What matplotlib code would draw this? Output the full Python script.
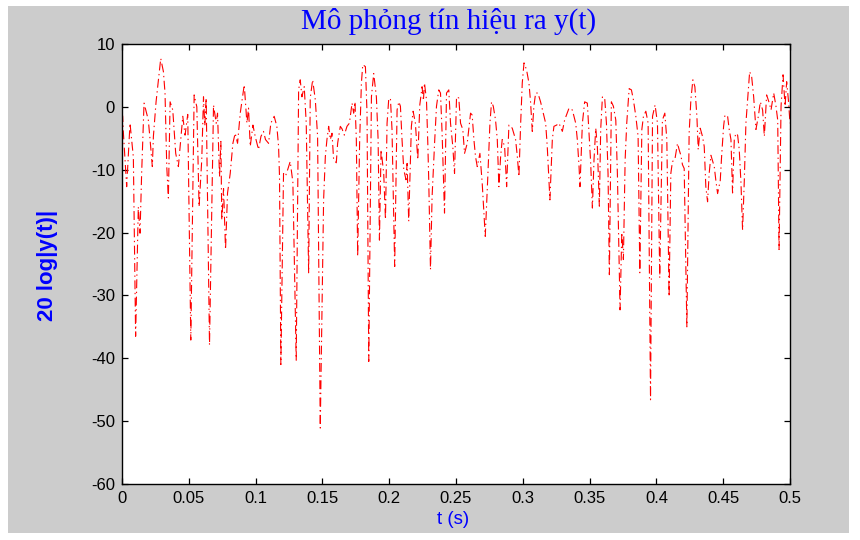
import matplotlib
matplotlib.use("Agg")
import matplotlib.pyplot as plt
import numpy as np
from matplotlib.patches import Rectangle

plt.rcParams["axes.unicode_minus"] = False

# time (ms) and level (dB), peaks and dips
t_ms = [
    0.0, 0.5, 1.0, 3.5, 6.0, 8.5, 10.2, 12.2, 13.5, 14.7, 16.5, 19.7, 21.0, 22.7,
    23.5, 25.5, 29.0, 31.0, 32.2, 33.5, 34.7, 36.0, 38.0, 40.2, 42.2, 45.5, 47.2,
    49.2, 51.5, 54.0, 56.0, 57.7, 59.7, 61.0, 62.0, 63.0, 65.5, 68.5, 70.5, 71.5,
    73.0, 74.0, 74.7, 76.0, 77.5, 79.0, 81.0, 83.0, 84.7, 86.5, 88.5, 91.5, 93.5,
    94.7, 96.0, 98.0, 99.7, 102.2, 104.0, 105.9, 107.4, 109.7, 111.4, 113.9,
    115.9, 117.2, 117.9, 118.9, 120.9, 122.4, 124.0, 125.9, 127.9, 130.4, 132.2,
    133.4, 134.7, 136.4, 137.9, 139.7, 140.9, 142.7, 144.7, 146.4, 148.4, 150.9,
    152.2, 153.4, 154.7, 155.9, 157.2, 158.4, 160.4, 161.4, 163.4, 164.7, 166.4,
    168.4, 170.2, 172.2, 173.4, 174.4, 175.4, 176.4, 177.9, 179.2, 180.2, 182.2,
    183.4, 184.7, 186.7, 188.4, 190.4, 191.7, 192.7, 193.9, 195.9, 197.2, 198.4,
    199.6, 200.9, 202.1, 204.1, 205.9, 207.2, 208.4, 209.6, 210.9, 212.6, 213.4,
    214.6, 216.6, 217.9, 219.6, 221.4, 222.9, 224.6, 225.6, 226.4, 227.9, 228.9,
    229.6, 230.9, 232.1, 234.1, 235.4, 237.1, 238.4, 239.6, 241.4, 242.9, 244.6,
    245.9, 247.6, 248.9, 250.4, 252.1, 253.4, 255.1, 256.4, 258.4, 260.9, 262.1,
    263.4, 264.6, 265.9, 267.9, 269.6, 271.9, 273.9, 275.4, 276.6, 277.9, 279.6,
    280.9, 282.1, 283.4, 284.6, 286.4, 287.9, 289.6, 290.9, 292.1, 294.6, 295.9,
    297.1, 298.4, 299.6, 300.9, 302.8, 304.6, 305.8, 307.1, 308.3, 309.6, 311.3,
    313.3, 315.3, 317.1, 318.3, 320.3, 322.1, 323.3, 325.3, 327.1, 329.6, 331.3,
    334.6, 337.1, 339.6, 340.8, 342.1, 342.8, 344.6, 346.3, 348.3, 349.6, 350.8,
    352.1, 353.3, 354.6, 355.8, 357.3, 358.3, 359.6, 361.3, 362.6, 363.8, 364.8,
    366.3, 367.8, 369.6, 370.8, 372.8, 374.1, 375.3, 376.6, 377.8, 379.6, 381.3,
    382.8, 384.6, 386.3, 387.6, 389.1, 390.3, 392.1, 393.8, 395.6, 397.1, 399.0,
    400.8, 402.5, 404.5, 406.3, 407.8, 409.5, 410.8, 412.0, 413.8, 415.8, 417.0,
    418.3, 419.5, 420.8, 422.8, 424.5, 425.8, 427.3, 428.8, 430.3, 431.3, 432.8,
    434.5, 435.8, 437.0, 438.3, 439.5, 440.8, 443.3, 444.5, 445.8, 447.8, 448.8,
    450.3, 451.3, 453.3, 454.5, 455.8, 457.0, 458.3, 459.5, 460.8, 462.0, 463.3,
    464.5, 465.8, 467.0, 468.3, 469.8, 471.3, 472.8, 474.5, 476.3, 477.8, 479.5,
    480.8, 482.5, 484.5, 485.8, 487.8, 489.5, 490.8, 491.8, 493.3, 494.8, 496.3,
    497.5, 498.8, 500.0,
]
level_db = [
    -1.0, -1.5, -4.0, -12.7, -2.6, -8.0, -36.5, -15.9, -20.1, -10.6, 0.6, -2.1,
    -5.2, -9.5, -4.7, 0.8, 7.7, 5.6, 2.2, -9.5, -14.5, 0.8, -0.5, -7.4, -9.5,
    -1.5, -4.5, -1.2, -37.1, 1.9, 0.0, -15.9, -8.4, 1.6, -3.0, 1.4, -37.9, 0.3,
    -2.6, -1.0, -11.1, -5.5, -18.0, -13.0, -22.7, -13.7, -10.6, -5.8, -4.2, -5.8,
    -1.0, 3.5, -2.6, -0.2, -6.3, -2.9, -4.7, -6.8, -4.7, -3.9, -5.2, -5.8, -2.6,
    -1.5, -3.1, -6.3, -11.1, -41.0, -10.6, -11.0, -10.0, -8.7, -12.0, -40.3,
    2.7, 4.3, 1.6, 3.2, -2.6, -26.4, 1.4, 4.3, 1.1, -4.7, -51.1, -14.8, -7.9,
    -5.2, -3.1, -5.2, -4.2, -8.4, -8.9, -5.8, -3.1, -3.5, -4.5, -3.1, -2.6, 0.6,
    -1.0, 0.8, -5.2, -23.8, -5.2, 3.8, 6.7, 6.4, -1.0, -40.5, 1.6, 5.3, 1.6,
    -5.2, -21.2, -6.8, -10.6, -17.9, -2.6, 1.1, 1.4, -3.6, -25.4, -0.5, 0.8,
    0.1, -5.2, -10.0, -11.6, -9.0, -18.2, -3.1, -0.7, -2.6, -8.4, 0.3, 3.2, 1.0,
    3.8, 1.1, -5.8, -11.7, -25.9, -14.3, -5.2, 0.1, 2.7, 2.2, -4.2, -16.9, 2.2,
    2.7, -2.6, -6.3, -10.6, 1.6, 1.4, -2.6, -3.6, -7.4, -5.8, -1.0, -1.3, -5.2,
    -7.9, -9.5, -7.4, -12.1, -20.6, -10.6, -2.6, 0.8, 0.1, -2.1, -5.2, -12.7,
    -7.9, -5.2, -6.3, -12.7, -2.9, -3.1, -3.4, -5.2, -7.9, -11.1, -2.6, 3.8,
    7.0, 5.9, 3.8, 0.8, -3.9, 0.1, 2.2, 2.2, 0.8, -1.0, -2.6, -6.3, -14.8, -5.2,
    -3.1, -2.9, -2.6, -3.9, -2.1, -0.2, -0.5, -2.6, -5.2, -9.5, -12.7, -2.6,
    0.8, 0.6, -4.2, -8.9, -16.1, -8.4, -3.4, -6.3, -15.8, -3.6, 1.6, 1.4, -2.6,
    -10.6, -26.7, 0.8, 0.1, -2.1, -10.6, -32.3, -20.0, -24.3, -8.4, -2.6, 2.9,
    2.7, 1.1, -1.5, -4.7, -26.4, -3.6, -1.5, -0.7, -2.6, -46.6, -1.5, 0.3,
    -2.6, -27.2, -2.1, -1.0, -5.2, -30.2, -10.6, -8.7, -8.4, -5.8, -6.8, -7.7,
    -9.2, -9.8, -35.0, -4.2, 1.1, 4.3, 3.2, -1.5, -6.8, -3.4, -4.7, -6.3, -12.7,
    -15.1, -10.6, -7.7, -9.5, -11.7, -13.8, -11.7, -7.9, -3.1, -1.3, -1.5, -3.6,
    -5.2, -13.7, -5.2, -4.2, -4.5, -6.8, -12.1, -19.6, -11.7, -2.6, 1.1, 5.6,
    4.8, 1.6, -3.6, -1.5, 0.8, -0.5, -4.7, 1.9, 0.6, -0.5, 2.2, 0.1, -2.1,
    -22.7, 0.1, 5.1, 0.1, 4.0, 1.1, -2.6,
]

x_ticks = [0, 0.05, 0.1, 0.15, 0.2, 0.25, 0.3, 0.35, 0.4, 0.45, 0.5]
x_labels = ["0", "0.05", "0.1", "0.15", "0.2", "0.25", "0.3", "0.35", "0.4", "0.45", "0.5"]
y_ticks = [-60, -50, -40, -30, -20, -10, 0, 10]

W, H = 860, 540
fig = plt.figure(figsize=(W / 100, H / 100), dpi=100, facecolor="white")

# grey window area like a MATLAB figure (behind everything)
fig.patches.append(Rectangle((8 / W, 7 / H), 841 / W, 527 / H, transform=fig.transFigure,
                             facecolor="#cccccc", edgecolor="none", zorder=-10))

ax = fig.add_axes([122 / W, 1 - 484 / H, 668 / W, 440 / H])
ax.set_facecolor("white")
ax.set_zorder(1)
t = np.array(t_ms) / 1000.0
ax.plot(t, level_db, color="red", lw=0.8, dashes=(8, 3.2, 1.2, 3.2))

ax.set_xlim(0, 0.5)
ax.set_ylim(-60, 10)
ax.set_xticks(x_ticks)
ax.set_xticklabels(x_labels)
ax.set_yticks(y_ticks)
ax.tick_params(direction="in", top=True, right=True, length=4, width=0.9,
               labelsize=12, pad=5)
for lab in ax.get_xticklabels() + ax.get_yticklabels():
    lab.set_fontfamily("Liberation Sans")
for s in ax.spines.values():
    s.set_linewidth(1.0)

fig.text(449 / W, 1 - 21 / H, "Mô phỏng tín hiệu ra y(t)", ha="center", va="center",
         color="blue", fontsize=21, family="Liberation Serif")
fig.text(48 / W, 1 - 265 / H, "20 log|y(t)|", ha="center", va="center", rotation=90,
         color="blue", fontsize=16, fontweight="bold", family="Liberation Sans")
fig.text(453 / W, 1 - 519 / H, "t (s)", ha="center", va="center",
         color="blue", fontsize=13.5, family="Liberation Sans")

fig.savefig("out.png", dpi=100, facecolor=fig.get_facecolor())
